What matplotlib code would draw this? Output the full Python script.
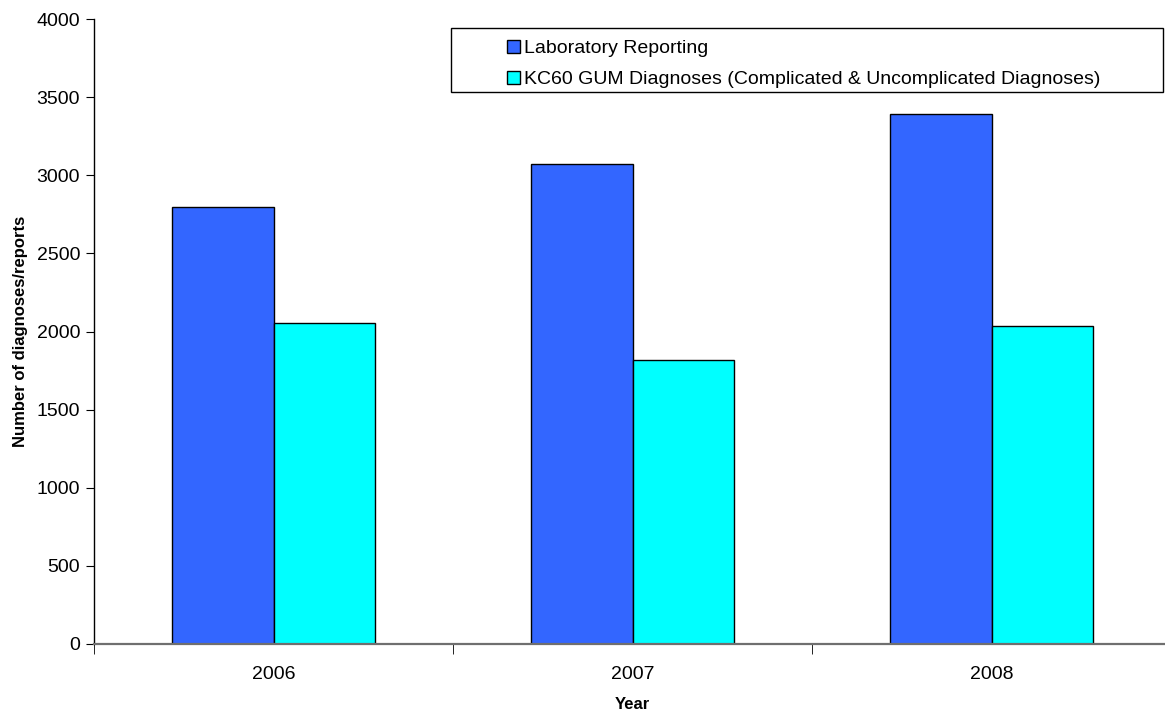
import numpy as np
import matplotlib.pyplot as plt
from matplotlib.patches import Rectangle

plt.rcParams['font.family'] = ['Liberation Sans', 'DejaVu Sans']

years = ['2006', '2007', '2008']
lab_reports = [2797, 3070, 3392]
kc60_diagnoses = [2054, 1816, 2037]
series_names = ['Laboratory Reporting',
                'KC60 GUM Diagnoses (Complicated & Uncomplicated Diagnoses)']

fig = plt.figure(figsize=(11.65, 7.11), dpi=100)
ax = fig.add_axes([94 / 1165, 67 / 711, 1077 / 1165, 625 / 711])

x = np.arange(len(years))
width = 0.284
b1 = ax.bar(x - width / 2, lab_reports, width, color='#3366FF',
            edgecolor='black', linewidth=1, label=series_names[0])
b2 = ax.bar(x + width / 2, kc60_diagnoses, width, color='#00FFFF',
            edgecolor='black', linewidth=1, label=series_names[1])

ax.set_xlim(-0.5, len(years) - 0.5)
ax.set_ylim(0, 4000)
ax.set_yticks(np.arange(0, 4001, 500))

# labels centred under each group, tick marks on the group boundaries
ax.set_xticks(x)
ax.set_xticklabels(years)
ax.set_xticks(np.arange(-0.5, len(years)), minor=True)
ax.tick_params(axis='x', which='major', length=0, pad=16, labelsize=14)
ax.tick_params(axis='x', which='minor', length=7, direction='out')
ax.tick_params(axis='y', length=6, direction='out', labelsize=14, pad=4)

for side in ['top', 'right']:
    ax.spines[side].set_visible(False)
ax.spines['bottom'].set_color('#6f6f6f')
ax.spines['bottom'].set_linewidth(1.6)
ax.spines['left'].set_linewidth(1)

ax.set_xlabel('Year', fontsize=12, fontweight='bold', labelpad=10)
ax.set_ylabel('Number of diagnoses/reports', fontsize=12,
              fontweight='bold', labelpad=6)

# legend frame drawn by hand, entries sit inside it
fig.patches.append(Rectangle((451 / 1165, 1 - 92 / 711), 712 / 1165, 64 / 711,
                             transform=fig.transFigure, facecolor='white',
                             edgecolor='black', linewidth=1, zorder=5))
leg = fig.legend(handles=[b1, b2], loc='upper left',
                 bbox_to_anchor=(507 / 1165, 1 - 40 / 711), frameon=False,
                 fontsize=14, handlelength=0.67, handleheight=0.67,
                 handletextpad=0.2, labelspacing=0.7, borderpad=0,
                 borderaxespad=0)
leg.set_zorder(6)

fig.savefig('out.png', dpi=100)
